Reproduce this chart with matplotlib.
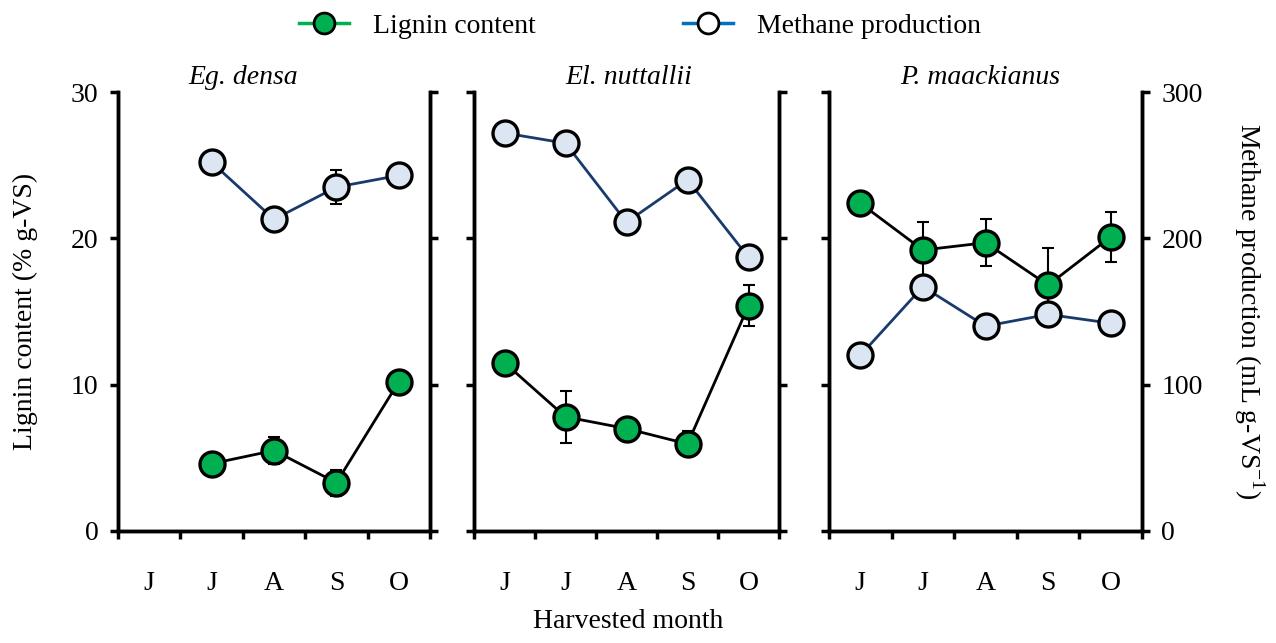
import numpy as np
import matplotlib.pyplot as plt
from matplotlib.lines import Line2D

plt.rcParams['font.family'] = ['Liberation Serif', 'DejaVu Serif']
plt.rcParams['mathtext.fontset'] = 'custom'
plt.rcParams['mathtext.rm'] = 'Liberation Serif'
plt.rcParams['font.size'] = 20

nan = np.nan
months = ['J', 'J', 'A', 'S', 'O']
species = ['Eg. densa', 'El. nuttallii', 'P. maackianus']

# lignin content (% g-VS), mean and error
lignin_eg = [nan, 4.6, 5.5, 3.3, 10.2]
lignin_el = [11.5, 7.8, 7.0, 5.95, 15.4]
lignin_p = [22.4, 19.2, 19.7, 16.8, 20.1]
lignin_err_eg = [nan, 0.2, 0.95, 0.9, 0.2]
lignin_err_el = [0.2, 1.77, 0.2, 0.85, 1.39]
lignin_err_p = [0.2, 1.9, 1.6, 2.55, 1.69]

# methane production (mL g-VS-1), mean and error
methane_eg = [nan, 252, 213, 235, 243]
methane_el = [272, 265, 211, 240, 187]
methane_p = [120, 167, 140, 148, 142]
methane_err_eg = [nan, 2, 2, 11.4, 2]
methane_err_el = [2, 2, 2, 2, 2]
methane_err_p = [2, 2, 2, 2, 2]

lignin = [lignin_eg, lignin_el, lignin_p]
lignin_err = [lignin_err_eg, lignin_err_el, lignin_err_p]
methane = [methane_eg, methane_el, methane_p]
methane_err = [methane_err_eg, methane_err_el, methane_err_p]

green = '#00b050'
pale = '#dce6f2'
navy = '#1a3a6e'

W, H = 1276, 643
fig = plt.figure(figsize=(W / 100, H / 100), dpi=100)

# panel extents in pixels: left, right
panels = [(118, 430), (474, 779), (829, 1142)]
top, bottom = 92, 531
title_x = [243, 629, 980]

x = np.arange(5) + 0.5
for i, (l, r) in enumerate(panels):
    ax = fig.add_axes([l / W, 1 - bottom / H, (r - l) / W, (bottom - top) / H])
    ax2 = ax.twinx()

    ax.errorbar(x, lignin[i], yerr=lignin_err[i], fmt='none', ecolor='black',
                elinewidth=1.5, capsize=4, capthick=1.5, zorder=2)
    ax.plot(x, lignin[i], '-o', color='black', lw=2, ms=18, mfc=green,
            mec='black', mew=2.4, zorder=3)
    ax2.errorbar(x, methane[i], yerr=methane_err[i], fmt='none', ecolor='black',
                 elinewidth=1.5, capsize=4, capthick=1.5, zorder=2)
    ax2.plot(x, methane[i], '-o', color=navy, lw=2, ms=18, mfc=pale,
             mec='black', mew=2.4, zorder=3)

    ax.set_xlim(0, 5)
    ax.set_ylim(0, 30)
    ax2.set_ylim(0, 300)
    ax.set_yticks([0, 10, 20, 30])
    ax2.set_yticks([0, 100, 200, 300])
    ax.set_xticks(range(6))
    ax.set_xticklabels([])
    ax.set_xticks(x, minor=True)
    ax.set_xticklabels(months, minor=True)
    ax.tick_params(axis='x', which='minor', length=0, pad=29, labelsize=20)
    ax.tick_params(axis='x', which='major', direction='out', length=6, width=2.5)
    ax.tick_params(axis='y', direction='out', length=6, width=2.5, pad=8, labelsize=20)
    ax2.tick_params(axis='y', direction='out', length=6, width=2.5, pad=8, labelsize=20)
    for a in (ax, ax2):
        a.spines['top'].set_visible(False)
        for s in ('left', 'right', 'bottom'):
            a.spines[s].set_linewidth(2.5)
    if i > 0:
        ax.set_yticklabels([])
    if i < 2:
        ax2.set_yticklabels([])

    fig.text(title_x[i] / W, 1 - 78 / H, species[i], style='italic',
             ha='center', va='center', fontsize=20)

    if i == 0:
        ax.set_ylabel('Lignin content (% g-VS)', fontsize=20, labelpad=24)
    if i == 2:
        ax2.set_ylabel(r'Methane production (mL g-VS$^{\mathregular{-1}}$)',
                       rotation=270, fontsize=20, labelpad=46)

fig.text(628 / W, 1 - 622 / H, 'Harvested month', ha='center', va='center', fontsize=20)

handles = [
    Line2D([], [], color=green, lw=2.5, marker='o', ms=15, mfc=green, mec='black', mew=2),
    Line2D([], [], color='#0070c0', lw=2.5, marker='o', ms=15, mfc='white', mec='black', mew=2),
]
fig.legend(handles, ['Lignin content', 'Methane production'], loc='center',
           bbox_to_anchor=(640 / W, 1 - 26 / H), ncol=2, frameon=False,
           handlelength=1.8, handletextpad=0.85, columnspacing=5.3, fontsize=20)

fig.savefig('out.png', dpi=100)
